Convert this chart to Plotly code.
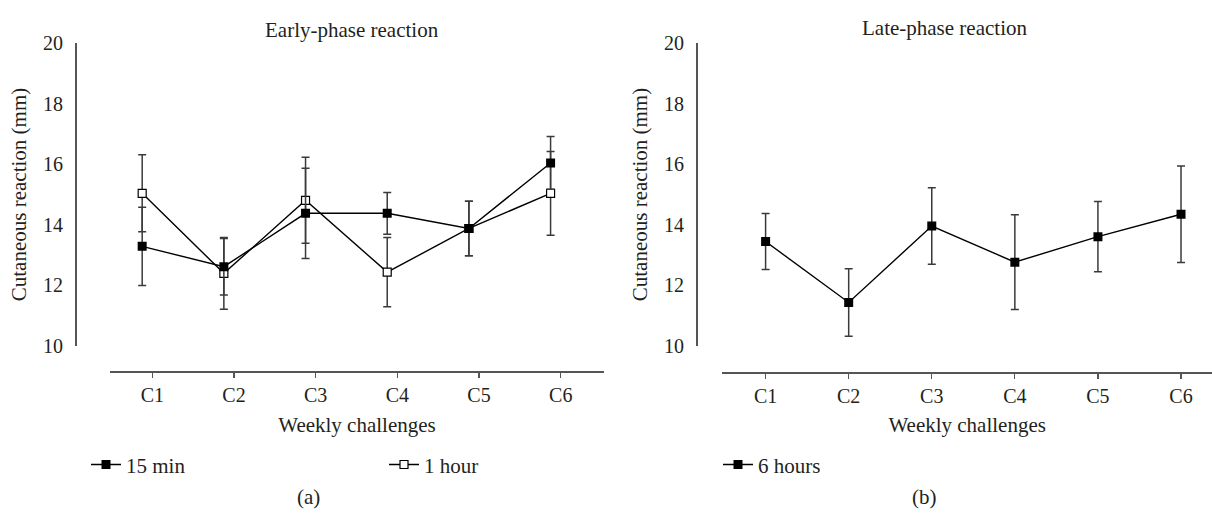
import plotly.graph_objects as go

# ---------------- data ----------------
categories = ["C1", "C2", "C3", "C4", "C5", "C6"]

early_15min = [13.29, 12.62, 14.38, 14.38, 13.88, 16.04]
early_15min_err = [1.29, 0.93, 1.49, 0.69, 0.90, 0.87]

early_1hour = [15.04, 12.40, 14.81, 12.44, 13.88, 15.04]
early_1hour_err = [1.27, 1.18, 1.42, 1.14, 0.90, 1.38]

late_6hours = [13.45, 11.44, 13.96, 12.77, 13.61, 14.35]
late_6hours_err = [0.92, 1.11, 1.26, 1.56, 1.16, 1.59]

y_ticks = [10, 12, 14, 16, 18, 20]

# ---------------- style ----------------
W, H = 1212, 518
FONT = "Liberation Serif"
TXT = "#231f20"
AXC = "#555555"
ERRC = "#3a3a3a"
FS = 21
FS_TICK = 20


def px_x(p):
    return p / W


def px_y(p):
    return 1 - p / H


fig = go.Figure()

# empty trace so the visible category axis of panel (a) gets drawn
fig.add_trace(go.Scatter(x=[], y=[], xaxis="x3", yaxis="y",
                         showlegend=False, hoverinfo="skip"))

# 1 hour (drawn first, 15 min on top)
fig.add_trace(go.Scatter(
    x=categories, y=early_1hour, name="1 hour", mode="lines+markers",
    xaxis="x", yaxis="y", legend="legend2", showlegend=True,
    line=dict(color="black", width=1.4),
    marker=dict(symbol="square", size=8, color="white",
                line=dict(color="black", width=1.2)),
    error_y=dict(type="data", array=early_1hour_err, color=ERRC,
                 thickness=1.5, width=4),
))
fig.add_trace(go.Scatter(
    x=categories, y=early_15min, name="15 min", mode="lines+markers",
    xaxis="x", yaxis="y", legend="legend", showlegend=True,
    line=dict(color="black", width=1.4),
    marker=dict(symbol="square", size=9, color="black"),
    error_y=dict(type="data", array=early_15min_err, color=ERRC,
                 thickness=1.5, width=4),
))
fig.add_trace(go.Scatter(
    x=categories, y=late_6hours, name="6 hours", mode="lines+markers",
    xaxis="x2", yaxis="y2", legend="legend3", showlegend=True,
    line=dict(color="black", width=1.4),
    marker=dict(symbol="square", size=9, color="black"),
    error_y=dict(type="data", array=late_6hours_err, color=ERRC,
                 thickness=1.5, width=4),
))

ydom = [px_y(350), px_y(33.3)]
tickfont = dict(family=FONT, size=FS_TICK, color=TXT)
textfont = dict(family=FONT, size=FS, color=TXT)

yax_common = dict(
    domain=ydom, range=[10, 20], tickvals=y_ticks, ticks="",
    showline=True, linecolor=AXC, linewidth=1.6, showgrid=False,
    zeroline=False, tickfont=tickfont, ticklabelstandoff=8,
    anchor="free",
    title=dict(text="Cutaneous reaction (mm)", font=textfont, standoff=9),
)

xvis_common = dict(
    showline=True, linecolor=AXC, linewidth=1.6, showgrid=False,
    zeroline=False, ticks="outside", ticklen=5, tickcolor=AXC, tickwidth=1.3,
    tickfont=tickfont, anchor="free",
    title=dict(text="Weekly challenges", font=textfont, standoff=12),
)

fig.update_layout(
    width=W, height=H,
    margin=dict(l=0, r=0, t=0, b=0),
    paper_bgcolor="white", plot_bgcolor="white",
    font=dict(family=FONT, size=FS, color=TXT),
    showlegend=True,
    hovermode=False,
    # left panel: data axis (hidden) and visible category axis
    xaxis=dict(domain=[px_x(110), px_x(604)], type="category",
               categoryorder="array", categoryarray=categories,
               range=[-0.394, 5.654], visible=False, anchor="y"),
    xaxis3=dict(domain=[px_x(110), px_x(604)], overlaying="x",
                range=[-0.518, 5.53], tickvals=list(range(len(categories))),
                ticktext=categories, position=px_y(376), **xvis_common),
    yaxis=dict(position=px_x(75), **yax_common),
    # right panel
    xaxis2=dict(domain=[px_x(722.4), 1], type="category",
                categoryorder="array", categoryarray=categories,
                range=[-0.52, 5.373], position=px_y(377), **xvis_common),
    yaxis2=dict(position=px_x(696), **yax_common),
    legend=dict(x=px_x(86), y=px_y(474), xanchor="left", yanchor="middle",
                bgcolor="rgba(0,0,0,0)", font=textfont),
    legend2=dict(x=px_x(384), y=px_y(474), xanchor="left", yanchor="middle",
                 bgcolor="rgba(0,0,0,0)", font=textfont),
    legend3=dict(x=px_x(718), y=px_y(474), xanchor="left", yanchor="middle",
                 bgcolor="rgba(0,0,0,0)", font=textfont),
    annotations=[
        dict(text="Early-phase reaction", x=px_x(352), y=px_y(20),
             xref="paper", yref="paper", showarrow=False, font=textfont,
             xanchor="center", yanchor="middle"),
        dict(text="Late-phase reaction", x=px_x(944), y=px_y(18),
             xref="paper", yref="paper", showarrow=False, font=textfont,
             xanchor="center", yanchor="middle"),
        dict(text="(a)", x=px_x(308), y=px_y(508), xref="paper",
             yref="paper", showarrow=False, font=textfont,
             xanchor="center", yanchor="middle"),
        dict(text="(b)", x=px_x(924), y=px_y(508), xref="paper",
             yref="paper", showarrow=False, font=textfont,
             xanchor="center", yanchor="middle"),
    ],
)

# remove the default 8px page margin so the figure sits at the window origin
fig.write_html("out.html",
               config={"displayModeBar": False, "staticPlot": True},
               post_script="document.body.style.margin='0';"
                           "document.body.style.overflow='hidden';")
